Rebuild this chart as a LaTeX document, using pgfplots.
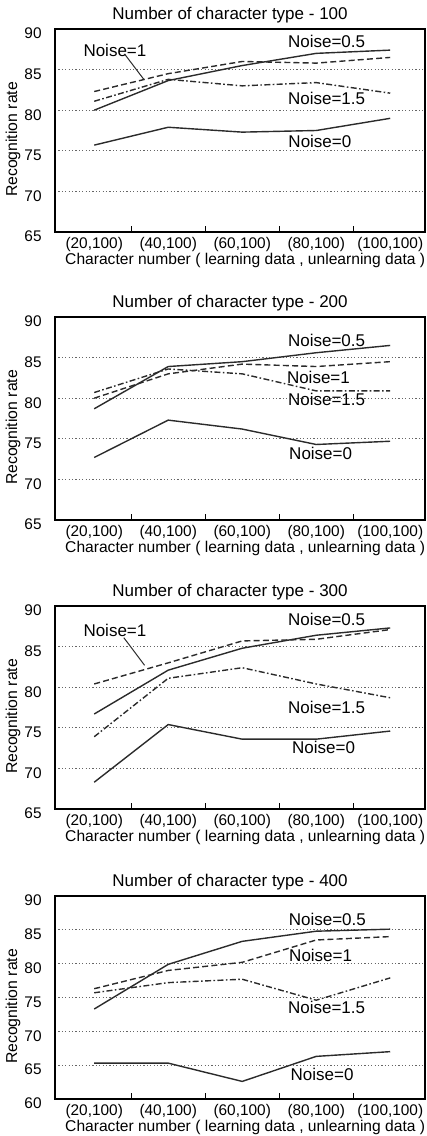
\documentclass[border=0pt]{standalone}
\usepackage{fontspec}
\setmainfont{Liberation Sans}
\usepackage{pgfplots}
\pgfplotsset{compat=1.18}
\definecolor{ln}{HTML}{2B2B2B}
\pgfplotsset{
  panel/.style={
    scale only axis, width=185pt, height=101.5pt,
    anchor=north west,
    xmin=-0.53, xmax=4.47,
    xtick={0,1,2,3,4},
    xticklabels={(20,100),(40,100),(60,100),(80,100),(100,100)},
    minor xtick={0.5,1.5,2.5,3.5},
    major tick length=0pt,
    minor tick length=3pt,
    tick align=inside,
    xtick pos=left,
    ytick pos=left,
    ymajorgrids,
    grid style={black!60, line width=0.5pt, dash pattern=on 0.6pt off 1.1pt},
    axis line style={black, line width=0.6pt},
    minor tick style={black, line width=0.6pt},
    /pgf/number format/assume math mode=true,
    xticklabel style={font=\fontsize{7.7}{8}\selectfont, anchor=center, inner sep=0pt, yshift=-6.25pt},
    yticklabel style={font=\fontsize{7.7}{8}\selectfont, anchor=east, inner sep=0pt, xshift=-6.5pt, yshift=-2.25pt},
    every axis title/.style={at={(axis description cs:0.473,1)}, anchor=center, yshift=6.75pt, font=\fontsize{8.5}{10}\selectfont},
    every axis y label/.style={at={(axis description cs:-0.1135,0.456)}, rotate=90, anchor=center, font=\fontsize{7.9}{9}\selectfont},
    every axis x label/.style={at={(axis description cs:0.514,0)}, anchor=center, yshift=-14pt, font=\fontsize{7.8}{9}\selectfont},
    xlabel={Character number ( learning data , unlearning data )},
    ylabel={Recognition rate},
  },
  s0/.style={ln, line width=0.7pt, solid},
  s05/.style={ln, line width=0.7pt, solid},
  s1/.style={ln, line width=0.7pt, dash pattern=on 3pt off 1.6pt},
  s15/.style={ln, line width=0.7pt, dash pattern=on 3pt off 1.2pt on 0.8pt off 1.2pt},
}
\tikzset{lab/.style={font=\fontsize{8.5}{10}\selectfont, anchor=center, inner sep=0pt}}
\begin{document}
\begin{tikzpicture}
\useasboundingbox (0,0) rectangle (213.5pt,-568pt);

% Panel 1
\begin{axis}[panel, at={(27.5pt,-14.5pt)}, ymin=65, ymax=90, ytick={65,70,...,90},
  title={Number of character type - 100}]
\addplot[s0] coordinates {(0,75.7) (1,77.9) (2,77.3) (3,77.5) (4,79.0)};
\addplot[s05] coordinates {(0,80.0) (1,83.65) (2,85.5) (3,87.0) (4,87.4)};
\addplot[s1] coordinates {(0,82.3) (1,84.5) (2,86.0) (3,85.8) (4,86.5)};
\addplot[s15] coordinates {(0,81.1) (1,83.8) (2,83.0) (3,83.4) (4,82.1)};
\node[lab] at (axis cs:3.14,88.5) {Noise=0.5};
\node[lab] at (axis cs:3.14,81.4) {Noise=1.5};
\node[lab] at (axis cs:3.05,76.2) {Noise=0};
\node[lab] at (axis cs:0.28,87.4) {Noise=1};
\draw[ln, line width=0.5pt] (axis cs:0.42,86.8) -- (axis cs:0.67,83.8);
\end{axis}

% Panel 2
\begin{axis}[panel, at={(27.5pt,-158.5pt)}, ymin=65, ymax=90, ytick={65,70,...,90},
  title={Number of character type - 200}]
\addplot[s0] coordinates {(0,72.7) (1,77.3) (2,76.2) (3,74.3) (4,74.7)};
\addplot[s05] coordinates {(0,78.7) (1,83.9) (2,84.5) (3,85.6) (4,86.5)};
\addplot[s1] coordinates {(0,80.0) (1,83.0) (2,84.2) (3,83.9) (4,84.5)};
\addplot[s15] coordinates {(0,80.7) (1,83.6) (2,83.0) (3,80.9) (4,80.9)};
\node[lab] at (axis cs:3.14,87.1) {Noise=0.5};
\node[lab] at (axis cs:3.03,82.6) {Noise=1};
\node[lab] at (axis cs:3.14,79.9) {Noise=1.5};
\node[lab] at (axis cs:3.06,73.2) {Noise=0};
\end{axis}

% Panel 3
\begin{axis}[panel, at={(27.5pt,-303pt)}, ymin=65, ymax=90, ytick={65,70,...,90},
  title={Number of character type - 300}]
\addplot[s0] coordinates {(0,68.3) (1,75.4) (2,73.6) (3,73.6) (4,74.6)};
\addplot[s05] coordinates {(0,76.7) (1,82.1) (2,84.8) (3,86.4) (4,87.3)};
\addplot[s1] coordinates {(0,80.4) (1,83.0) (2,85.7) (3,85.9) (4,87.1)};
\addplot[s15] coordinates {(0,73.9) (1,81.1) (2,82.4) (3,80.4) (4,78.7)};
\node[lab] at (axis cs:3.14,88.3) {Noise=0.5};
\node[lab] at (axis cs:0.28,87.0) {Noise=1};
\draw[ln, line width=0.5pt] (axis cs:0.40,86.1) -- (axis cs:0.68,82.7);
\node[lab] at (axis cs:3.14,77.5) {Noise=1.5};
\node[lab] at (axis cs:3.10,72.6) {Noise=0};
\end{axis}

% Panel 4
\begin{axis}[panel, at={(27.5pt,-448pt)}, ymin=60, ymax=90, ytick={60,65,...,90},
  title={Number of character type - 400}]
\addplot[s0] coordinates {(0,65.3) (1,65.3) (2,62.6) (3,66.3) (4,67.0)};
\addplot[s05] coordinates {(0,73.3) (1,79.9) (2,83.3) (3,84.8) (4,85.1)};
\addplot[s1] coordinates {(0,76.3) (1,79.0) (2,80.2) (3,83.5) (4,84.0)};
\addplot[s15] coordinates {(0,75.7) (1,77.2) (2,77.7) (3,74.6) (4,77.9)};
\node[lab] at (axis cs:3.15,86.5) {Noise=0.5};
\node[lab] at (axis cs:3.06,81.2) {Noise=1};
\node[lab] at (axis cs:3.14,73.5) {Noise=1.5};
\node[lab] at (axis cs:3.08,63.6) {Noise=0};
\end{axis}
\end{tikzpicture}
\end{document}
